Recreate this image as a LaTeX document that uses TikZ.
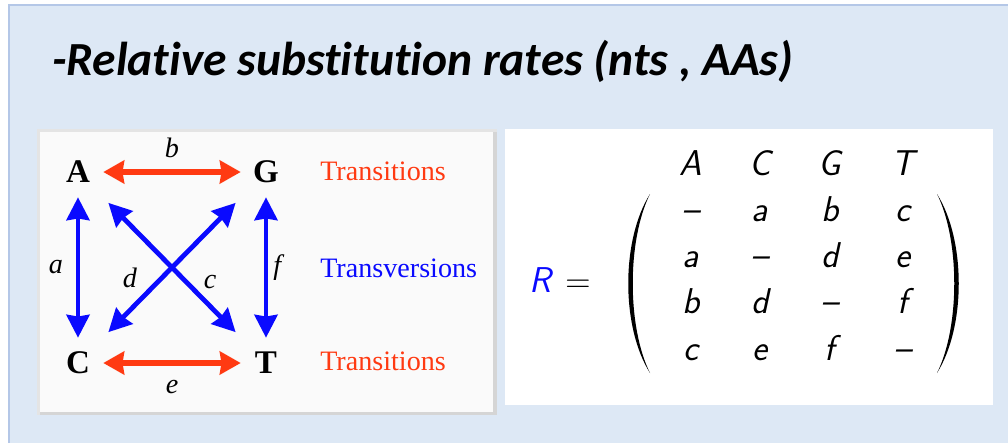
\documentclass[tikz,border=0pt]{standalone}
\usepackage{fontspec}
\setmainfont{Liberation Serif}
\newfontfamily\titlefont[Ligatures=NoCommon]{Carlito}
\usetikzlibrary{arrows.meta, positioning}
\definecolor{pageblue}{HTML}{DDE8F5}
\definecolor{edgeblue}{HTML}{B4C7E7}
\definecolor{tsred}{HTML}{FF3A12}
\definecolor{tvblue}{HTML}{0A0AFF}
\definecolor{panelgrey}{HTML}{E4E4E4}
\definecolor{paneldark}{HTML}{D5D5D5}
\definecolor{panelfill}{HTML}{FAFAFA}
\tikzset{
  nuc/.style={circle, minimum size=1.25cm, inner sep=0pt, font=\bfseries\fontsize{23.5}{23.5}\selectfont},
  rate/.style={inner sep=0pt, font=\itshape\fontsize{20}{20}\selectfont},
  kind/.style={anchor=base west, inner sep=0pt, font=\fontsize{20}{20}\selectfont},
  entry/.style={anchor=base, inner sep=0pt, font=\sffamily\itshape\fontsize{25.5}{25.5}\selectfont},
  tsarrow/.style={{Stealth[length=0.52cm, width=0.57cm, inset=0.04cm]}-{Stealth[length=0.52cm, width=0.57cm, inset=0.04cm]}, line width=0.15cm, draw=tsred},
  tvarrow/.style={{Stealth[length=0.57cm, width=0.57cm, inset=0.04cm]}-{Stealth[length=0.57cm, width=0.57cm, inset=0.04cm]}, line width=0.12cm, draw=tvblue}
}
\begin{document}
\begin{tikzpicture}[x=0.025cm, y=-0.025cm]
\useasboundingbox (0,0) rectangle (1008,443);

% slide background
\fill[white] (0,0) rectangle (1008,443);
\fill[pageblue] (9,5) rectangle (1008,443);
\draw[edgeblue, line width=0.05cm] (9,443) |- (1008,5);

\node[anchor=base west, inner sep=0pt, font=\titlefont\bfseries\itshape\fontsize{33.8}{40}\selectfont] (title) at (52,75) {-Relative substitution rates (nts , AAs)};

% left panel
\fill[panelgrey] (37,129) rectangle (497,415);
\fill[paneldark] (40,132) rectangle (497,415);
\fill[panelfill] (40,132) rectangle (493,412);

\node[nuc] (A) at (78,172) {A};
\node[nuc] (G) at (266,172) {G};
\node[nuc] (C) at (78,363) {C};
\node[nuc] (T) at (266,363) {T};

\draw[tsarrow] (A) -- node[rate, above=7.8pt] (rb) {b} (G);
\draw[tsarrow] (C) -- node[rate, below=10pt] (re) {e} (T);
\draw[tvarrow] (A) -- node[rate, left=9pt] (ra) {a} (C);
\draw[tvarrow] (G) -- node[rate, right=3.5pt] (rf) {f} (T);
\draw[tvarrow, shorten <=0.45cm, shorten >=0.45cm] (A) -- node[rate, xshift=0.95cm, yshift=-0.36cm] (rc) {c} (T);
\draw[tvarrow, shorten <=0.45cm, shorten >=0.45cm] (G) -- node[rate, xshift=-1.05cm, yshift=-0.27cm] (rd) {d} (C);

\node[kind, text=tsred] (ts1) at (320,180) {Transitions};
\node[kind, text=tvblue] (tv) at (320,277) {Transversions};
\node[kind, text=tsred] (ts2) at (320,370) {Transitions};

% right panel
\fill[white] (505,129) rectangle (993,405);

\node[entry, text=tvblue] (R) at (540,292) {R};
\node[entry, font=\fontsize{25.5}{25.5}\selectfont] (eq) at (578,292) {$=$};

\node[entry] (hA) at (691,175) {A};
\node[entry] (hC) at (760,175) {C};
\node[entry] (hG) at (830,175) {G};
\node[entry] (hT) at (903,175) {T};

\node[entry] (m11) at (691,221) {\textendash};
\node[entry] (m12) at (760,221) {a};
\node[entry] (m13) at (830,221) {b};
\node[entry] (m14) at (903,221) {c};

\node[entry] (m21) at (691,267) {a};
\node[entry] (m22) at (760,267) {\textendash};
\node[entry] (m23) at (830,267) {d};
\node[entry] (m24) at (903,267) {e};

\node[entry] (m31) at (691,313) {b};
\node[entry] (m32) at (760,313) {d};
\node[entry] (m33) at (830,313) {\textendash};
\node[entry] (m34) at (903,313) {f};

\node[entry] (m41) at (691,360) {c};
\node[entry] (m42) at (760,360) {e};
\node[entry] (m43) at (830,360) {f};
\node[entry] (m44) at (903,360) {\textendash};

% parentheses
\fill (650,194) .. controls (621,240) and (621,327) .. (650,373)
  .. controls (627,327) and (627,240) .. (650,194);
\fill (937,194) .. controls (966,240) and (966,327) .. (937,373)
  .. controls (960,327) and (960,240) .. (937,194);

\end{tikzpicture}
\end{document}
